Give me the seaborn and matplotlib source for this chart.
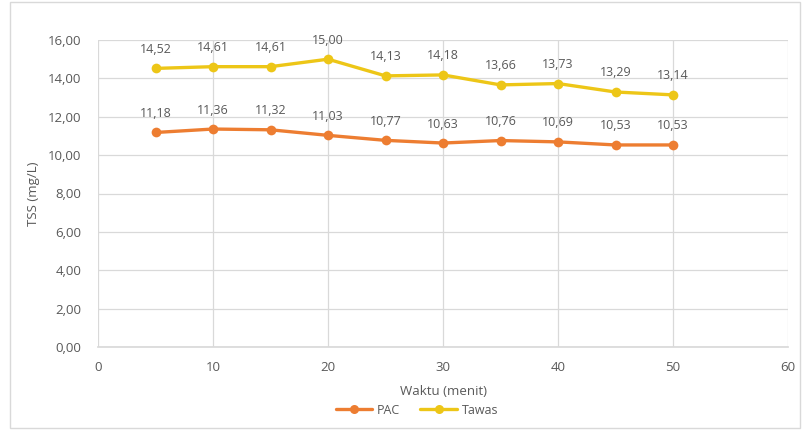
import matplotlib
matplotlib.use("Agg")
import matplotlib.pyplot as plt
import matplotlib.patches as mpatches
from matplotlib.ticker import FuncFormatter, MultipleLocator
import seaborn as sns
import pandas as pd

# Waktu pengamatan (menit) dan nilai TSS (mg/L)
waktu = [5, 10, 15, 20, 25, 30, 35, 40, 45, 50]
tss_pac = [11.18, 11.36, 11.32, 11.03, 10.77, 10.63, 10.76, 10.69, 10.53, 10.53]
tss_tawas = [14.52, 14.61, 14.61, 15.00, 14.13, 14.18, 13.66, 13.73, 13.29, 13.14]
series_names = ["PAC", "Tawas"]
series_colors = {"PAC": "#ED7D31", "Tawas": "#EDC617"}

df = pd.concat([
    pd.DataFrame({"Waktu": waktu, "TSS": tss_pac, "Koagulan": "PAC"}),
    pd.DataFrame({"Waktu": waktu, "TSS": tss_tawas, "Koagulan": "Tawas"}),
])

sns.set_theme(style="white")
plt.rcParams["font.family"] = ["Open Sans", "DejaVu Sans"]
text_gray = "#595959"
grid_gray = "#D9D9D9"

fig = plt.figure(figsize=(8.06, 4.30), dpi=100)
# chart-area frame
fig.patches.append(mpatches.Rectangle((10 / 806, 2 / 430), 790 / 806, 426 / 430,
                                      transform=fig.transFigure, fill=False,
                                      edgecolor="#D9D9D9", linewidth=1.0))
ax = fig.add_axes([98 / 806, 1 - 347 / 430, 690 / 806, 307 / 430])

sns.lineplot(data=df, x="Waktu", y="TSS", hue="Koagulan", hue_order=series_names,
             palette=series_colors, marker="o", markersize=7, markeredgewidth=0,
             linewidth=2.4, ax=ax, legend=False)

for name, vals in zip(series_names, [tss_pac, tss_tawas]):
    for xv, yv in zip(waktu, vals):
        ax.annotate(f"{yv:.2f}".replace(".", ","), (xv, yv), xytext=(0, 9),
                    textcoords="offset points", ha="center", va="bottom",
                    fontsize=9, color=text_gray)

ax.set_xlim(0, 60)
ax.set_ylim(0, 16)
ax.xaxis.set_major_locator(MultipleLocator(10))
ax.yaxis.set_major_locator(MultipleLocator(2))
ax.yaxis.set_major_formatter(FuncFormatter(lambda v, p: f"{v:.2f}".replace(".", ",")))
ax.grid(True, color=grid_gray, linewidth=0.9)
ax.set_axisbelow(True)
for side in ["top", "right", "left"]:
    ax.spines[side].set_visible(False)
ax.spines["bottom"].set_color(grid_gray)
ax.tick_params(axis="both", length=0, labelsize=9.5, colors=text_gray, pad=10)
ax.tick_params(axis="y", pad=12)

ax.set_xlabel("Waktu (menit)", fontsize=9.5, color=text_gray, labelpad=8)
ax.set_ylabel("TSS (mg/L)", fontsize=9.5, color=text_gray, labelpad=6)

handles = [plt.Line2D([], [], color=series_colors[n], marker="o", markersize=6.5,
                      markeredgewidth=0, linewidth=2.4, label=n) for n in series_names]
fig.legend(handles=handles, loc="center", bbox_to_anchor=(417 / 806, 1 - 410 / 430),
           ncol=2, frameon=False, fontsize=9, labelcolor=text_gray,
           handlelength=2.9, columnspacing=1.6, handletextpad=0.4)

fig.savefig("out.png", dpi=100, facecolor="white")
